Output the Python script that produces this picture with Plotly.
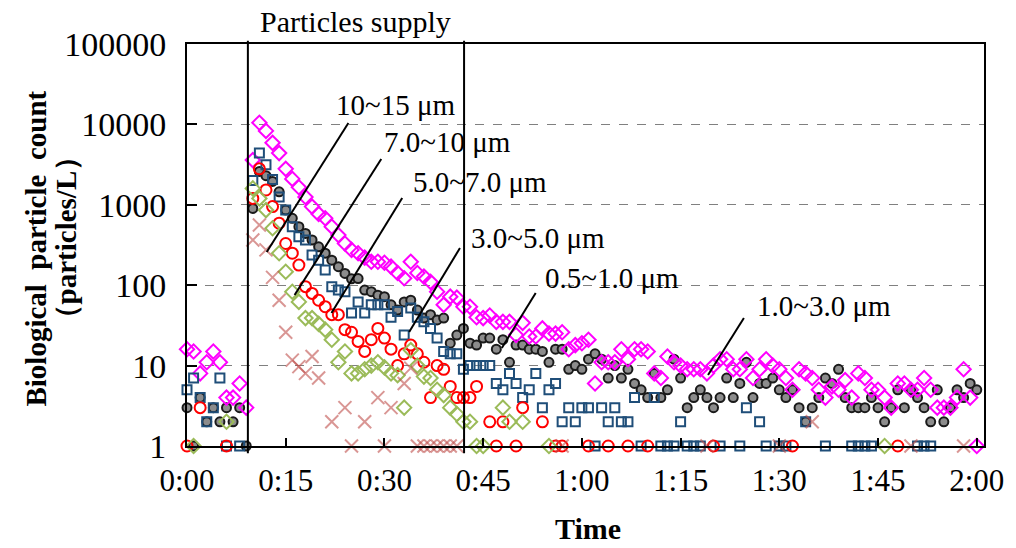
import plotly.graph_objects as go

# ---------------- data (minutes since start, particles/L) ----------------
minutes = list(range(121))

pm05_10 = [3, 1, 4, 2, 3, 2, 3, 2, 3, 1,
           900, 2600, 2300, 1950, 1450, 860, 680, 535, 440, 365,
           300, 250, 205, 170, 140, 120, 121, 87, 83, 75,
           72, 57, 49, 62, 65, 49, 39, 43, 37, 39,
           19, 24, 29, 19, 18, 22, 22, 16, 21, 11,
           18, 18, 16, 16, 15, 11, 16, 16, 9, 10,
           9, 12, 14, 12, 7, 10, 7, 9, 6, 5,
           4, 8, 4, 5, 12, 7, 3, 4, 5, 4,
           3, 4, 7, 4, 6, 11, 4, 6, 6, 7,
           5, 4, 5, 3, 2, 3, 4, 7, 6, 9,
           4, 3, 3, 3, 4, 3, 2, 3, 5, 3,
           5, 4, 3, 2, 5, 2, 3, 5, 4, 6,
           5]

pm10_30 = [16, 15, 8, 11, 15, 11, 4, 4, 6, 3,
           3600, 10500, 8300, 5900, 4400, 2800, 2100, 1650, 1250, 950,
           770, 680, 535, 420, 330, 275, 250, 220, 196, 196,
           190, 170, 142, 122, 196, 142, 128, 110, 83, 57,
           72, 70, 54, 54, 40, 39, 42, 35, 35, 35,
           24, 34, 23, 23, 29, 25, 25, 26, 16, 18,
           19, 21, 6, 11, 11, 11, 16, 12, 16, 16,
           15, 8, 7, 13, 11, 10, 9, 9, 9, 8,
           10, 12, 12, 9, 9, 12, 7, 9, 12, 10,
           9, 7, 5, 9, 8, 7, 5, 4, 5.5, 5,
           6.6, 4, 8, 7, 5, 5, 4, 3, 6, 6,
           5, 5, 7, 5, 3, 3, 3, 4, 9, 4,
           1]

pm30_50 = [5, 7, 4, 2, 3, 7, 1, None, 1, None,
           2000, 4400, 3150, 2060, 1250, 860, 535, 400, 365, 238,
           205, 155, 96, 87, 83, 45, 62, 45, 57, 57,
           57, 40, 47, 24, 52, 40, 35, 29, 22, 15,
           14, 14, 9, 10, 10, 10, 10, 6, 5, 8,
           6, 4, 5, 8, 3, 5, 6, 2, 3, 2,
           3, 3, 1, 3, 2, 3, 2, 2, 4, 1,
           None, 4, 1, 1, 1, 2, 1, 1, 1, None,
           None, 1, None, None, 1, 3, None, 2, 1, None,
           1, 1, None, None, 2, None, None, 1, None, None,
           None, 1, 1, 1, 1, None, None, None, None, None,
           None, 1, 1, 1, None, None, None, None, None, None,
           None]

pm50_70_t = [0, 2, 6, 10, 11, 12, 13, 14, 15, 16, 17, 18, 19, 20, 21, 22, 23, 24,
             25, 26, 27, 28, 29, 30, 31, 32, 33, 34, 35, 36, 37, 38, 39, 40, 41,
             42, 43, 44, 46, 47, 48, 50, 51, 54, 56, 57, 61, 64, 67, 70, 80, 92, 108]
pm50_70_v = [1, 3, 1, 1200, 2800, 1530, 950, 590, 330, 250, 178, 96, 79, 65, 54, 43, 43, 28,
             26, 20, 15, 21, 29, 22, 16, 10, 14, 18, 14, 11, 4, 10, 9, 5.5, 4,
             4, 4, 5.5, 2, 1, 2, 1, 3, 2, 1, 1, 1, 1, 1, 1, 1, 1, 1]

pm70_100_t = [1, 6, 10, 11, 12, 13, 14, 15, 16, 17, 18, 19, 20, 21, 22, 23, 24, 25,
              26, 27, 28, 29, 30, 31, 32, 33, 34, 35, 36, 37, 38, 39, 40, 41, 42,
              43, 44, 45, 48, 49, 51, 55, 106]
pm70_100_v = [1, 2, 1600, 1200, 860, 510, 250, 147, 83, 62, 39, 39, 33, 28, 21, 11, 15, 8,
              8, 9, 10, 11, 9.5, 8, 7.6, 3, 15.6, 10, 7.3, 7, 5, 4.3, 3, 2.5, 2,
              2, 1, 1, 3, 2, 2, 1, 1]

pm100_150_t = [10, 11, 12, 13, 14, 15, 16, 17, 18, 19, 20, 22, 24, 25, 27, 29, 30, 31,
               33, 34, 35, 36, 37, 38, 39, 40, 41, 57, 79, 90, 95, 110, 118]
pm100_150_v = [365, 560, 275, 125, 65, 26, 11.7, 9.7, 8, 13, 7, 2, 3, 1, 2, 4, 1, 3,
               6, 9.3, 1, 1, 1, 1, 1, 1, 1, 1, 1, 1, 2, 1, 1]

supply_start = 9.25
supply_end = 42.1

x_tickvals = [0, 15, 30, 45, 60, 75, 90, 105, 120]
x_ticktext = ["0:00", "0:15", "0:30", "0:45", "1:00", "1:15", "1:30", "1:45", "2:00"]
y_tickvals = [1, 10, 100, 1000, 10000, 100000]
y_ticktext = ["1", "10", "100", "1000", "10000", "100000"]

labels = ["10~15 μm", "7.0~10 μm", "5.0~7.0 μm", "3.0~5.0 μm", "0.5~1.0 μm", "1.0~3.0 μm"]

# ---------------- figure ----------------
FONT = "Liberation Serif, Times New Roman, serif"
L, R, T, B = 187, 29, 44, 102
W, H = 1016, 548
PW, PH = W - L - R, H - T - B


def px(x):
    return (x - L) / PW


def py(y):
    return (H - B - y) / PH


fig = go.Figure()

fig.add_trace(go.Scatter(x=minutes, y=pm05_10, mode="markers", cliponaxis=False,
                         marker=dict(symbol="circle", size=9, color="#8c8c8c",
                                     line=dict(color="#1a1a1a", width=2))))
fig.add_trace(go.Scatter(x=minutes, y=pm10_30, mode="markers", cliponaxis=False,
                         marker=dict(symbol="diamond-open", size=11, color="#FF00FF",
                                     line=dict(width=2))))
fig.add_trace(go.Scatter(x=minutes, y=pm30_50, mode="markers", cliponaxis=False,
                         marker=dict(symbol="square-open", size=9, color="#1F4E79",
                                     line=dict(width=2))))
fig.add_trace(go.Scatter(x=pm50_70_t, y=pm50_70_v, mode="markers", cliponaxis=False,
                         marker=dict(symbol="circle-open", size=11, color="#FF0000",
                                     line=dict(width=2))))
fig.add_trace(go.Scatter(x=pm70_100_t, y=pm70_100_v, mode="markers", cliponaxis=False,
                         marker=dict(symbol="diamond-open", size=11, color="#9BBB59",
                                     line=dict(width=2))))
fig.add_trace(go.Scatter(x=pm100_150_t, y=pm100_150_v, mode="markers", cliponaxis=False,
                         marker=dict(symbol="x-thin-open", size=13, color="rgba(192,80,77,0.6)",
                                     line=dict(width=2, color="rgba(192,80,77,0.6)"))))

shapes = []
for xv in (supply_start, supply_end):
    shapes.append(dict(type="line", xref="x", yref="paper", x0=xv, x1=xv,
                       y0=-0.018, y1=1.008, line=dict(color="black", width=2)))

# leader lines (pixel coordinates converted to paper)
leaders = [((349, 123), (267, 252)),
           ((382, 159), (295, 295)),
           ((403, 198), (332, 313)),
           ((461, 248), (410, 332)),
           ((537, 293), (503, 348)),
           ((746, 318), (710, 375))]
for (x0, y0), (x1, y1) in leaders:
    shapes.append(dict(type="line", xref="paper", yref="paper",
                       x0=px(x0), y0=py(y0), x1=px(x1), y1=py(y1),
                       line=dict(color="black", width=2)))

label_pos = [(335, 105), (383, 142), (412, 182), (470, 238), (544, 278), (757, 306)]
annotations = []
for text, (lx, ly) in zip(labels, label_pos):
    annotations.append(dict(text=text, xref="paper", yref="paper", x=px(lx), y=py(ly),
                            xanchor="left", yanchor="middle", showarrow=False,
                            font=dict(size=29, family=FONT, color="black")))

annotations.append(dict(text="Particles supply", xref="paper", yref="paper",
                        x=px(356), y=py(22), xanchor="center", yanchor="middle",
                        showarrow=False, font=dict(size=30, family=FONT, color="black")))
annotations.append(dict(text="<b>Biological  particle  count</b>", xref="paper", yref="paper",
                        x=px(35), y=py(249), xanchor="center", yanchor="middle",
                        textangle=-90, showarrow=False,
                        font=dict(size=29, family=FONT, color="black")))
annotations.append(dict(text="<b>（particles/L）</b>", xref="paper", yref="paper",
                        x=px(66), y=py(237), xanchor="center", yanchor="middle",
                        textangle=-90, showarrow=False,
                        font=dict(size=29, family=FONT, color="black")))
annotations.append(dict(text="<b>Time</b>", xref="paper", yref="paper",
                        x=px(590), y=py(528), xanchor="center", yanchor="middle",
                        showarrow=False, font=dict(size=30, family=FONT, color="black")))

fig.update_layout(
    width=W, height=H,
    margin=dict(l=L, r=R, t=T, b=B),
    plot_bgcolor="white", paper_bgcolor="white",
    showlegend=False,
    font=dict(family=FONT, size=30, color="black"),
    shapes=shapes,
    annotations=annotations,
    xaxis=dict(range=[0, 121.1], tickvals=x_tickvals, ticktext=x_ticktext,
               ticks="inside", ticklen=8, tickwidth=1.5, tickcolor="black",
               showline=True, linecolor="black", linewidth=2, mirror=True,
               showgrid=False, zeroline=False, ticklabelstandoff=6,
               tickfont=dict(size=31, family=FONT)),
    yaxis=dict(type="log", range=[0, 5], tickvals=y_tickvals, ticktext=y_ticktext,
               ticks="inside", ticklen=10, tickwidth=1.5, tickcolor="black",
               showline=True, linecolor="black", linewidth=2, mirror=True,
               showgrid=True, gridcolor="#808080", griddash="dash", gridwidth=1.3,
               zeroline=False, ticklabelstandoff=12,
               tickfont=dict(size=34, family=FONT)),
)

fig.write_html("out.html",
               config={"displayModeBar": False},
               post_script="document.body.style.margin='0';document.body.style.padding='0';"
                           "document.body.style.overflow='hidden';")
